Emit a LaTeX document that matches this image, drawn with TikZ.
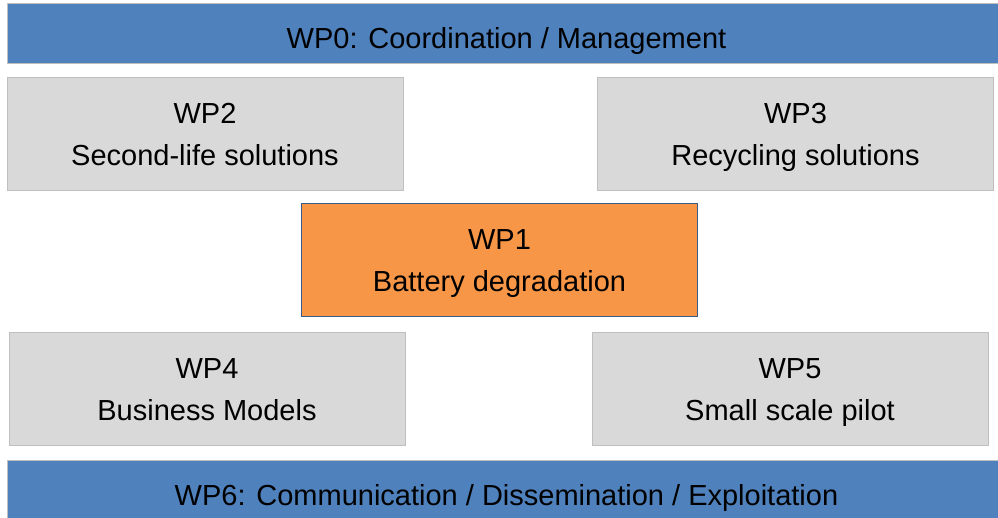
\documentclass[tikz,border=0pt]{standalone}
\usepackage{fontspec}
\setmainfont{Liberation Sans}
\usepackage{tikz}
\definecolor{barblue}{HTML}{4F81BD}
\definecolor{wpgrey}{HTML}{D9D9D9}
\definecolor{wpedge}{HTML}{BFBFBF}
\definecolor{wporange}{HTML}{F79646}
\definecolor{wpdark}{HTML}{385D8A}
\tikzstyle{wpbar} = [rectangle, fill=barblue, draw=wpedge, line width=1pt,
    minimum width=999pt, minimum height=60pt, inner sep=0pt,
    text height=30pt, text depth=0pt,
    font=\fontsize{29}{42}\selectfont]
\tikzstyle{wpbox} = [rectangle, fill=wpgrey, draw=wpedge, line width=1pt,
    minimum width=396pt, minimum height=113pt, inner sep=0pt,
    text height=63pt, text depth=0pt, align=center,
    font=\fontsize{29}{42}\selectfont]
\tikzstyle{wpcore} = [wpbox, fill=wporange, draw=wpdark]

\begin{document}
\begin{tikzpicture}[x=1pt,y=-1pt]
    \useasboundingbox (0,0) rectangle (998,517);
    %management and dissemination
    \node[wpbar] (wp0) at (506.5,33) {WP0: Coordination / Management};
    \node[wpbar] (wp6) at (506.5,490) {WP6: Communication / Dissemination / Exploitation};
    %work packages
    \node[wpbox] (wp2) at (205,133.5) {WP2\\Second-life solutions};
    \node[wpbox] (wp3) at (795.5,133.5) {WP3\\Recycling solutions};
    \node[wpcore] (wp1) at (499.5,259.5) {WP1\\Battery degradation};
    \node[wpbox] (wp4) at (207,388.5) {WP4\\Business Models};
    \node[wpbox] (wp5) at (790,388.5) {WP5\\Small scale pilot};
\end{tikzpicture}
\end{document}
